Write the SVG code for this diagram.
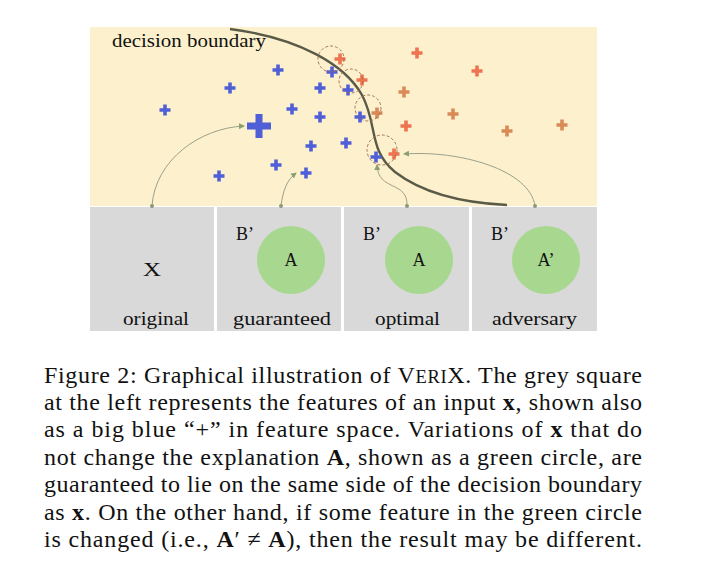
<svg xmlns="http://www.w3.org/2000/svg" width="726" height="586" viewBox="0 0 726 586">
<style>
.bx{stroke:#4f5fd8;stroke-width:3.6;fill:none}
.ox{stroke:#ee7350;stroke-width:3.6;fill:none}
.oy{stroke:#d98a58;stroke-width:3.6;fill:none}
.dc{fill:none;stroke:#9a6a50;stroke-width:0.9;stroke-dasharray:3,2}
.cn{fill:none;stroke:#9aa08a;stroke-width:1}
.lbl{font-family:"Liberation Serif",serif;font-size:18px;fill:#111}
.cap{font-family:"Liberation Serif",serif;font-size:24px;fill:#111}
.gc{fill:#a8d890}
</style>
<defs>
<marker id="ah" markerWidth="6" markerHeight="6" refX="5" refY="3" orient="auto" markerUnits="userSpaceOnUse"><path d="M0,0 L6,3 L0,6 z" fill="#8aa070"/></marker>
<marker id="dt" markerWidth="5" markerHeight="5" refX="2.5" refY="2.5" markerUnits="userSpaceOnUse"><circle cx="2.5" cy="2.5" r="2" fill="#8a9a7a"/></marker>
<path id="p" d="M-5.5,0 H5.5 M0,-5.5 V5.5"/>
</defs>
<rect width="726" height="586" fill="#fff"/>
<g id="feature-space">
<rect x="90" y="27" width="507" height="179" fill="#fdf1cd"/>
<path d="M230,29 C300,38 345,65 362,95 C378,125 368,150 395,172 C425,195 465,203 507,205" fill="none" stroke="#5a5a48" stroke-width="2.4"/>
<text class="lbl" x="112" y="47" textLength="154" lengthAdjust="spacingAndGlyphs" font-size="16.5">decision boundary</text>
<g id="blue-points" class="bx">
<use href="#p" x="278" y="70"/><use href="#p" x="230" y="88"/><use href="#p" x="165" y="110"/>
<use href="#p" x="292" y="109"/><use href="#p" x="320" y="88"/><use href="#p" x="320" y="117"/>
<use href="#p" x="332" y="72"/><use href="#p" x="348" y="90"/><use href="#p" x="360" y="117"/>
<use href="#p" x="346" y="143"/><use href="#p" x="311" y="146"/><use href="#p" x="276" y="165"/>
<use href="#p" x="306" y="173"/><use href="#p" x="219" y="176"/><use href="#p" x="376" y="157"/>
<path d="M247,126 H271 M259,114 V138" stroke-width="7"/>
</g>
<g id="orange-points">
<use class="ox" href="#p" x="340" y="59"/><use class="ox" href="#p" x="362" y="80"/>
<use class="ox" href="#p" x="417" y="53"/><use class="ox" href="#p" x="477" y="71"/>
<use class="oy" href="#p" x="404" y="92"/><use class="oy" href="#p" x="377" y="113"/>
<use class="ox" href="#p" x="406" y="126"/><use class="oy" href="#p" x="453" y="114"/>
<use class="oy" href="#p" x="507" y="131"/><use class="oy" href="#p" x="562" y="125"/>
<use class="ox" href="#p" x="394" y="154"/>
</g>
<g id="neighbourhoods">
<circle class="dc" cx="331" cy="59" r="13"/>
<circle class="dc" cx="351" cy="81" r="12"/>
<circle class="dc" cx="368" cy="108" r="13"/>
<circle class="dc" cx="382" cy="150" r="15"/>
</g>
</g>
<g id="panel-original">
<rect x="90" y="207" width="124" height="124" fill="#d9d9d9"/>
<text class="lbl" x="143" y="276" font-size="20" textLength="18" lengthAdjust="spacingAndGlyphs">X</text>
<text class="lbl" x="123" y="325" textLength="66" lengthAdjust="spacingAndGlyphs">original</text>
</g>
<g id="panel-guaranteed">
<rect x="217" y="207" width="124" height="124" fill="#d9d9d9"/>
<circle class="gc" cx="291" cy="260" r="34"/>
<text class="lbl" x="236" y="240">B’</text>
<text class="lbl" x="291" y="266" text-anchor="middle">A</text>
<text class="lbl" x="233" y="325" textLength="98" lengthAdjust="spacingAndGlyphs">guaranteed</text>
</g>
<g id="panel-optimal">
<rect x="344" y="207" width="125" height="124" fill="#d9d9d9"/>
<circle class="gc" cx="419" cy="260" r="34"/>
<text class="lbl" x="363" y="240">B’</text>
<text class="lbl" x="419" y="266" text-anchor="middle">A</text>
<text class="lbl" x="375" y="325" textLength="65" lengthAdjust="spacingAndGlyphs">optimal</text>
</g>
<g id="panel-adversary">
<rect x="472" y="207" width="125" height="124" fill="#d9d9d9"/>
<circle class="gc" cx="546" cy="260" r="34"/>
<text class="lbl" x="491" y="240">B’</text>
<text class="lbl" x="546" y="266" text-anchor="middle">A’</text>
<text class="lbl" x="492" y="325" textLength="85" lengthAdjust="spacingAndGlyphs">adversary</text>
</g>
<g id="connectors">
<path class="cn" d="M152,206 C155,160 200,128 244,126" marker-start="url(#dt)" marker-end="url(#ah)"/>
<path class="cn" d="M281,206 C283,190 287,180 296,173" marker-start="url(#dt)" marker-end="url(#ah)"/>
<path class="cn" d="M407,206 C408,180 378,192 377,165" marker-start="url(#dt)" marker-end="url(#ah)"/>
<path class="cn" d="M535,206 C530,170 460,150 404,154" marker-start="url(#dt)" marker-end="url(#ah)"/>
</g>
<g id="caption" class="cap">
<text x="44" y="383" textLength="598" lengthAdjust="spacing">Figure 2: Graphical illustration of V<tspan font-size="18.5">ERI</tspan>X. The grey square</text>
<text x="44" y="410" textLength="598" lengthAdjust="spacing">at the left represents the features of an input <tspan font-weight="bold">x</tspan>, shown also</text>
<text x="44" y="437" textLength="598" lengthAdjust="spacing">as a big blue “+” in feature space. Variations of <tspan font-weight="bold">x</tspan> that do</text>
<text x="44" y="465" textLength="598" lengthAdjust="spacing">not change the explanation <tspan font-weight="bold">A</tspan>, shown as a green circle, are</text>
<text x="44" y="492" textLength="598" lengthAdjust="spacing">guaranteed to lie on the same side of the decision boundary</text>
<text x="44" y="520" textLength="598" lengthAdjust="spacing">as <tspan font-weight="bold">x</tspan>. On the other hand, if some feature in the green circle</text>
<text x="44" y="547" textLength="598" lengthAdjust="spacing">is changed (i.e., <tspan font-weight="bold">A</tspan>′ ≠ <tspan font-weight="bold">A</tspan>), then the result may be different.</text>
</g>
</svg>
